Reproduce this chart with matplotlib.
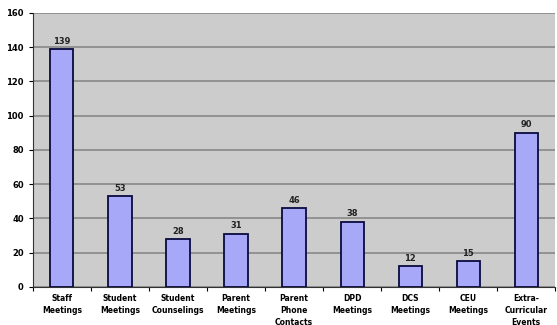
import matplotlib.pyplot as plt
import numpy as np

categories = ["Staff\nMeetings", "Student\nMeetings", "Student\nCounselings",
              "Parent\nMeetings", "Parent\nPhone\nContacts", "DPD\nMeetings",
              "DCS\nMeetings", "CEU\nMeetings", "Extra-\nCurricular\nEvents"]
counts = [139, 53, 28, 31, 46, 38, 12, 15, 90]

fig = plt.figure(figsize=(5.57, 3.25), dpi=100)
ax = fig.add_axes([0.059, 0.117, 0.938, 0.843])
ax.set_facecolor("#cccccc")

x = np.arange(len(counts))
bars = ax.bar(x, counts, width=0.4, color="#a8a8f8", edgecolor="#0a0a40", linewidth=1.3, zorder=3)
for b, v in zip(bars, counts):
    ax.text(b.get_x() + b.get_width() / 2, v + 2, str(v), ha="center", va="bottom",
            fontsize=6, fontweight="semibold", color="#222222", zorder=4)

ax.set_ylim(0, 160)
ax.set_xlim(-0.5, len(counts) - 0.5)
ax.set_yticks(range(0, 161, 20))
ax.yaxis.grid(True, color="#888888", linewidth=1.2, zorder=0)
ax.tick_params(axis="y", labelsize=6, length=3, width=0.8)
for lbl in ax.get_yticklabels():
    lbl.set_fontweight("semibold")

ax.set_xticks(x)
ax.set_xticklabels(categories, fontsize=5.5, linespacing=1.4, fontweight="semibold")
ax.tick_params(axis="x", length=0, pad=5)
ax.set_xticks(np.arange(len(counts) + 1) - 0.5, minor=True)
ax.tick_params(axis="x", which="minor", length=3, width=0.8)

for s in ["top", "right"]:
    ax.spines[s].set_visible(False)
ax.spines["left"].set_color("#333333")
ax.spines["bottom"].set_color("#333333")

plt.savefig("out.png", dpi=100)
